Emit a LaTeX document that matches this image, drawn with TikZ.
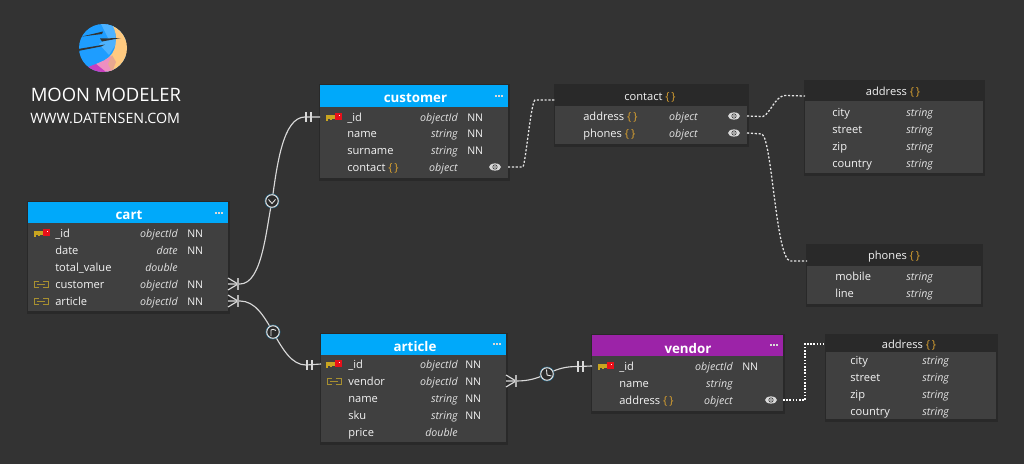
\documentclass[tikz,border=0pt]{standalone}
\usepackage{fontspec}
\setmainfont{Open Sans}
\definecolor{bgc}{HTML}{333333}
\definecolor{bodyc}{HTML}{404040}
\definecolor{darkh}{HTML}{292929}
\definecolor{bluec}{HTML}{00A9FA}
\definecolor{purc}{HTML}{9C23A8}
\definecolor{txt}{HTML}{F4F4F4}
\definecolor{typec}{HTML}{E2E2E2}
\definecolor{brc}{HTML}{D8A030}
\definecolor{gold}{HTML}{C9A520}
\definecolor{fkc}{HTML}{A89030}
\definecolor{keyr}{HTML}{E8101A}
\definecolor{logoo}{HTML}{FFCA80}
\definecolor{logob}{HTML}{1E9DFF}
\definecolor{logol}{HTML}{4DB2FF}
\definecolor{logop}{HTML}{EE8FC0}
\definecolor{logov}{HTML}{C740C0}
\definecolor{logod}{HTML}{E8A890}
\tikzset{
  x=0.75pt,y=-0.75pt,
  boxn/.style={rectangle,inner sep=0pt,outer sep=0pt,anchor=north west,draw=none},
  rown/.style={rectangle,inner sep=0pt,outer sep=0pt,minimum height=12pt,anchor=west},
  namet/.style={anchor=base west,inner sep=0pt,text=txt,font=\fontsize{8.35}{10}\selectfont},
  typet/.style={anchor=base east,inner sep=0pt,text=typec,font=\fontsize{8}{10}\selectfont\itshape},
  typel/.style={anchor=base west,inner sep=0pt,text=typec,font=\fontsize{8}{10}\selectfont\itshape},
  nnt/.style={anchor=base west,inner sep=0pt,text=txt,font=\fontsize{7.9}{10}\selectfont},
  relline/.style={draw=white!85!black,line width=0.85pt},
  dotline/.style={draw=white!90!black,line width=0.95pt,dash pattern=on 1.6pt off 1.3pt},
  sqline/.style={draw=white,line width=1.1pt,dash pattern=on 1.2pt off 1.2pt},
  badge/.style={circle,draw=white!92!black,line width=0.75pt,fill=bgc!85!black,minimum size=9.4pt,inner sep=0pt},
  halo/.style={circle,draw=bluec!45!bgc,line width=0.5pt,minimum size=10.6pt,inner sep=0pt},
  glyph/.style={draw=white!92!black,line width=0.65pt},
  ttlb/.style={text=white,inner sep=0pt,font=\fontsize{10}{12}\selectfont\bfseries},
  ttld/.style={text=txt,inner sep=0pt,font=\fontsize{8.35}{10}\selectfont},
}
\newcommand{\tbl}[7]{% id x1 x2 y1 ym y2 color
  \pgfmathsetmacro\tw{(#3-#2)*0.75}
  \pgfmathsetmacro\thh{(#5-#4)*0.75}
  \pgfmathsetmacro\tbh{(#6-#5)*0.75}
  \fill[black,opacity=0.18] (#2-1,#4-1) rectangle (#3+2,#6+3);
  \node[boxn,fill=bodyc,minimum width=\tw pt,minimum height=\tbh pt] (#1-body) at (#2,#5) {};
  \node[boxn,fill=#7,minimum width=\tw pt,minimum height=\thh pt] (#1-head) at (#2,#4) {};
}
\newcommand{\rw}[6]{% id x1 x2 y name nameX
  \pgfmathsetmacro\tw{(#3-#2)*0.75}
  \node[rown,minimum width=\tw pt] (#1) at (#2,#4) {};
  \node[namet] (#1-n) at (#6,#4+4) {#5};
}
\newcommand{\ty}[4]{\node[typet] (#1-t) at (#2,#3+4) {#4};}
\newcommand{\tyl}[4]{\node[typel] (#1-t) at (#2,#3+4) {#4};}
\newcommand{\nn}[3]{\node[nnt] (#1-nn) at (#2,#3+4) {NN};}
\newcommand{\br}{\textcolor{brc}{\{\,\}}}
\newcommand{\dotsicon}[2]{\foreach \d in {-3,0,3}{\fill[white!85!black] (#1+\d-0.7,#2-0.7) rectangle (#1+\d+0.7,#2+0.7);}}
\newcommand{\keyicon}[2]{%
  \fill[gold] (#1,#2-3) rectangle (#1+10,#2+0.5);
  \fill[gold] (#1,#2+0.5) rectangle (#1+2,#2+2.5);
  \fill[gold] (#1+4,#2+0.5) rectangle (#1+6,#2+2);
  \fill[keyr] (#1+9,#2-5) rectangle (#1+16,#2+2);
  \fill[white] (#1+12.5,#2-3.5) rectangle (#1+14,#2-2);
}
\newcommand{\fkicon}[2]{%
  \draw[fkc,line width=0.75pt] (#1+5,#2-3) -- (#1,#2-3) -- (#1,#2+3) -- (#1+5,#2+3);
  \draw[fkc,line width=0.75pt] (#1+9,#2-3) -- (#1+14,#2-3) -- (#1+14,#2+3) -- (#1+9,#2+3);
  \draw[fkc,line width=0.75pt] (#1+3,#2) -- (#1+11,#2);
}
\newcommand{\eyeicon}[2]{%
  \fill[white!85!black] (#1,#2) ellipse [x radius=6,y radius=3.6];
  \draw[bgc,line width=0.45pt] (#1,#2) circle [radius=2.2];
  \fill[bgc!70!white] (#1,#2) circle [radius=0.9];
}
\begin{document}
\begin{tikzpicture}
\useasboundingbox[fill=bgc] (0,0) rectangle (1024,464);

% logo
\begin{scope}
\clip (103,48) circle [radius=24];
\fill[logob] (79,24) rectangle (127,72);
\fill[logol] (101,24) -- (114,24) -- (116,44) -- (109,55) -- (99,44) -- (108,38) -- cycle;
\fill[logoo] (112,24) .. controls (119,36) and (117,54) .. (105,60) -- (108,72) -- (127,72) -- (127,24) -- cycle;
\fill[logop] (111,56) -- (105,60) -- (96,64) -- (100,72) -- (114,72) -- cycle;
\fill[logov] (96,64) -- (88,67) -- (92,72) -- (106,72) -- cycle;
\fill[logod] (112,55) -- (116,62) -- (112,72) -- (108,64) -- cycle;
\end{scope}
\fill[bgc] (82,36.5) -- (103,31.5) -- (102,34) -- cycle;
\fill[bgc] (100,38.5) -- (121,38) -- (102,41.5) -- cycle;
\fill[bgc] (78,49) -- (105,44.5) -- (101,46.5) -- (78,51) -- cycle;
\node[anchor=base west,inner sep=0pt,text=white,font=\fontsize{13.85}{16}\selectfont] (brand) at (30.5,101) {MOON MODELER};
\node[anchor=base west,inner sep=0pt,text=white,font=\fontsize{10.7}{12}\selectfont] (site) at (30,123) {WWW.DATENSEN.COM};

% tables
\tbl{cart}{28}{228}{202}{223}{311}{bluec}
\node[ttlb] (cart-tt) at (129,215) {cart};
\dotsicon{219}{213}
\keyicon{34}{234}
\rw{cart-id}{28}{228}{233}{\_id}{55}\ty{cart-id}{178}{233}{objectId}\nn{cart-id}{187}{233}
\rw{cart-date}{28}{228}{250}{date}{55}\ty{cart-date}{178}{250}{date}\nn{cart-date}{187}{250}
\rw{cart-total}{28}{228}{267}{total\_value}{55}\ty{cart-total}{178}{267}{double}
\fkicon{34}{284}
\rw{cart-customer}{28}{228}{284}{customer}{55}\ty{cart-customer}{178}{284}{objectId}\nn{cart-customer}{187}{284}
\fkicon{34}{301}
\rw{cart-article}{28}{228}{301}{article}{55}\ty{cart-article}{178}{301}{objectId}\nn{cart-article}{187}{301}

\tbl{customer}{320}{508}{85}{107}{178}{bluec}
\node[ttlb] (customer-tt) at (415.5,98) {customer};
\dotsicon{499}{96}
\keyicon{326}{118}
\rw{customer-id}{320}{508}{117}{\_id}{347}\ty{customer-id}{458}{117}{objectId}\nn{customer-id}{467}{117}
\rw{customer-name}{320}{508}{133}{name}{347}\ty{customer-name}{458}{133}{string}\nn{customer-name}{467}{133}
\rw{customer-surname}{320}{508}{150}{surname}{347}\ty{customer-surname}{458}{150}{string}\nn{customer-surname}{467}{150}
\rw{customer-contact}{320}{508}{167}{contact \br}{347}\ty{customer-contact}{458}{167}{object}
\eyeicon{495}{167}

\tbl{article}{321}{506}{334}{355}{442}{bluec}
\node[ttlb] (article-tt) at (415,346) {article};
\dotsicon{497}{344}
\keyicon{326}{365}
\rw{article-id}{321}{506}{364}{\_id}{348}\ty{article-id}{458}{364}{objectId}\nn{article-id}{465}{364}
\fkicon{327}{381}
\rw{article-vendor}{321}{506}{381}{vendor}{348}\ty{article-vendor}{458}{381}{objectId}\nn{article-vendor}{465}{381}
\rw{article-name}{321}{506}{398}{name}{348}\ty{article-name}{458}{398}{string}\nn{article-name}{465}{398}
\rw{article-sku}{321}{506}{415}{sku}{348}\ty{article-sku}{458}{415}{string}\nn{article-sku}{465}{415}
\rw{article-price}{321}{506}{432}{price}{348}\ty{article-price}{458}{432}{double}

\tbl{vendor}{592}{783}{335}{356}{411}{purc}
\node[ttlb] (vendor-tt) at (688,348) {vendor};
\dotsicon{774}{345}
\keyicon{598}{367}
\rw{vendor-id}{592}{783}{366}{\_id}{619}\ty{vendor-id}{733}{366}{objectId}\nn{vendor-id}{742}{366}
\rw{vendor-name}{592}{783}{383}{name}{619}\ty{vendor-name}{733}{383}{string}
\rw{vendor-address}{592}{783}{400}{address \br}{619}\ty{vendor-address}{733}{400}{object}
\eyeicon{771}{400}

\tbl{contact}{555}{747}{85}{106}{144}{darkh}
\node[ttld] (contact-tt) at (650,97) {contact \br};
\rw{contact-address}{555}{747}{116}{address \br}{583}\ty{contact-address}{698}{116}{object}
\rw{contact-phones}{555}{747}{133}{phones \br}{583}\ty{contact-phones}{698}{133}{object}
\eyeicon{734}{116}\eyeicon{734}{133}

\tbl{addressa}{805}{983}{81}{101}{173}{darkh}
\node[ttld] (addressa-tt) at (893,92) {address \br};
\rw{addressa-city}{805}{983}{112}{city}{832}\tyl{addressa-city}{906}{112}{string}
\rw{addressa-street}{805}{983}{129}{street}{832}\tyl{addressa-street}{906}{129}{string}
\rw{addressa-zip}{805}{983}{146}{zip}{832}\tyl{addressa-zip}{906}{146}{string}
\rw{addressa-country}{805}{983}{163}{country}{832}\tyl{addressa-country}{906}{163}{string}

\tbl{phones}{807}{981}{245}{266}{304}{darkh}
\node[ttld] (phones-tt) at (894,257) {phones \br};
\rw{phones-mobile}{807}{981}{276}{mobile}{835}\tyl{phones-mobile}{906}{276}{string}
\rw{phones-line}{807}{981}{293}{line}{835}\tyl{phones-line}{906}{293}{string}

\tbl{addressb}{826}{996}{335}{352}{419}{darkh}
\node[ttld] (addressb-tt) at (909,345) {address \br};
\rw{addressb-city}{826}{996}{360}{city}{850}\tyl{addressb-city}{922}{360}{string}
\rw{addressb-street}{826}{996}{377}{street}{850}\tyl{addressb-street}{922}{377}{string}
\rw{addressb-zip}{826}{996}{394}{zip}{850}\tyl{addressb-zip}{922}{394}{string}
\rw{addressb-country}{826}{996}{411}{country}{850}\tyl{addressb-country}{922}{411}{string}

% dotted connectors
\coordinate (ca1) at (555,100);
\coordinate (aa1) at (805,96);
\coordinate (pa1) at (807,261);
\coordinate (ab1) at (824,344);
\draw[dotline] (customer-contact.east) -- (523,167) .. controls (526,160) and (531,102) .. (535,100) -- (ca1);
\draw[dotline] (contact-address.east) -- (763,116.5) .. controls (770,114) and (775,96) .. (785,95.5) -- (aa1);
\draw[dotline] (contact-phones.east) -- (762,134) .. controls (772,140) and (776,258) .. (790,261) -- (pa1);
\draw[sqline] (vendor-address.east) -- (805,400) -- (805,344) -- (ab1);

% relationships
\coordinate (b1) at (272,201);
\coordinate (b2) at (273,332);
\coordinate (b3) at (547,374);
\draw[relline] (cart-customer.east) -- (240,284) .. controls (262,284) and (266,230) .. (b1) .. controls (277,165) and (283,117) .. (305,117) -- (customer-id.west);
\draw[relline] (cart-article.east) -- (240,301) .. controls (255,301) and (264,316) .. (b2) .. controls (283,350) and (292,365) .. (306,365) -- (article-id.west);
\draw[relline] (article-vendor.east) -- (516,381) .. controls (530,381) and (537,378) .. (b3) .. controls (557,369) and (565,366.5) .. (577,366.5) -- (vendor-id.west);
% crow feet and bars
\foreach \yy in {284,301}{
  \draw[relline] (228,\yy-6) -- (238,\yy) -- (228,\yy+6);
  \draw[relline,white!70!black] (238,\yy-6) -- (238,\yy+6);
}
\draw[relline] (506,375) -- (516,381) -- (506,387);
\draw[relline,white!70!black] (516,375) -- (516,387);
\foreach \xx in {306,311}{\draw[relline] (\xx,112) -- (\xx,122);}
\foreach \xx in {307,312}{\draw[relline] (\xx,360) -- (\xx,370);}
\foreach \xx in {578,583}{\draw[relline] (\xx,361) -- (\xx,372);}
% badges
\node[halo] (h1) at (b1) {};
\node[halo] (h2) at (b2) {};
\node[halo] (h3) at (b3) {};
\node[badge] (bb1) at (b1) {};
\node[badge] (bb2) at (b2) {};
\node[badge] (bb3) at (b3) {};
\draw[glyph] (268.5,199.5) -- (272,203.5) -- (275.5,199.5);
\draw[glyph] (271,336) -- (271,330) .. controls (272,329) and (274,329) .. (276,330.5);
\draw[glyph] (546.5,369.5) -- (547,375) -- (551.5,376);
\end{tikzpicture}
\end{document}
